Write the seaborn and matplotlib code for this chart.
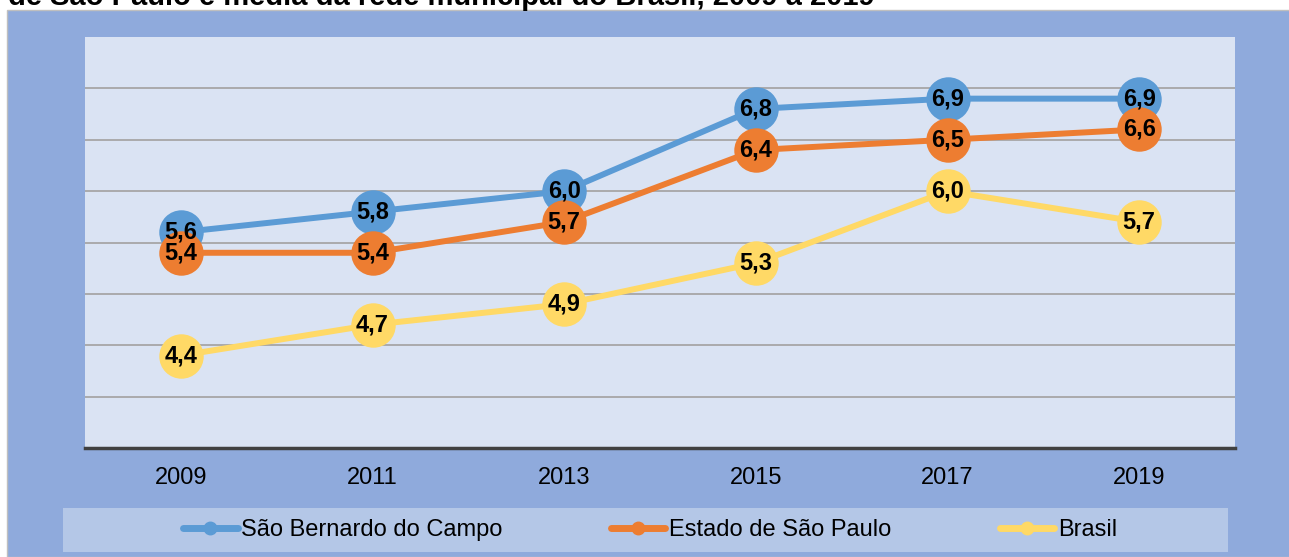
import pandas as pd
import numpy as np
import seaborn as sns
import matplotlib.pyplot as plt
from matplotlib.patches import Rectangle
from matplotlib.lines import Line2D

# dados do gráfico
anos = ['2009', '2011', '2013', '2015', '2017', '2019']
sao_bernardo = [5.6, 5.8, 6.0, 6.8, 6.9, 6.9]
estado_sp = [5.4, 5.4, 5.7, 6.4, 6.5, 6.6]
brasil = [4.4, 4.7, 4.9, 5.3, 6.0, 5.7]
series = ['São Bernardo do Campo', 'Estado de São Paulo', 'Brasil']
cores = ['#5b9bd5', '#ed7d31', '#ffd966']

df = pd.DataFrame({
    'pos': list(range(len(anos))) * 3,
    'valor': sao_bernardo + estado_sp + brasil,
    'serie': [s for s in series for _ in anos],
})

sns.set_style('white')
plt.rcParams['font.family'] = ['Liberation Sans', 'DejaVu Sans']
plt.rcParams['text.color'] = 'black'
plt.rcParams['xtick.color'] = 'black'

fig = plt.figure(figsize=(12.89, 5.57), dpi=100)
fig.patch.set_facecolor('white')

# fundo azul externo
fig.patches.append(Rectangle((7 / 1289, 0), 1, 1 - 10 / 557, transform=fig.transFigure,
                             facecolor='#8faadc', edgecolor='#bfbfbf', lw=1, zorder=-3))
# caixa da legenda
fig.patches.append(Rectangle((63 / 1289, 5 / 557), (1228 - 63) / 1289, 44 / 557,
                             transform=fig.transFigure, facecolor='#b4c7e7',
                             edgecolor='none', zorder=-2))

# título cortado no topo (como na imagem original)
fig.text(8 / 1289, 1 - 5 / 557,
         'de São Paulo e média da rede municipal do Brasil, 2009 a 2019',
         fontsize=21, fontweight='bold', va='baseline', ha='left', color='black')

ax = fig.add_axes([85 / 1289, 1 - 448 / 557, (1235 - 85) / 1289, (448 - 37) / 557])
ax.set_facecolor('#dae3f3')

sns.lineplot(data=df, x='pos', y='valor', hue='serie', hue_order=series,
             palette=cores, marker='o', markersize=32, markeredgewidth=0,
             linewidth=4.3, legend=False, ax=ax)

for vals in [sao_bernardo, estado_sp, brasil]:
    for i, v in enumerate(vals):
        ax.text(i, v, f'{v:.1f}'.replace('.', ','), ha='center', va='center',
                fontsize=17, fontweight='bold', color='black', zorder=10)

ax.set_xlim(-0.5, 5.5)
ax.set_ylim(3.5, 7.5)
ax.set_yticks(np.arange(4.0, 7.5, 0.5))
ax.set_yticklabels([])
ax.set_xticks(range(len(anos)))
ax.set_xticklabels(anos, fontsize=17)
ax.tick_params(axis='both', length=0)
ax.tick_params(axis='x', pad=14)
ax.grid(axis='y', color='#a6a6a6', lw=1.3)
ax.set_axisbelow(True)
ax.set_xlabel('')
ax.set_ylabel('')
for s in ['top', 'left', 'right']:
    ax.spines[s].set_visible(False)
ax.spines['bottom'].set_color('#404040')
ax.spines['bottom'].set_linewidth(2.5)

handles = [Line2D([], [], color=c, lw=5, marker='o', markersize=9) for c in cores]
fig.legend(handles, series, loc='center', bbox_to_anchor=(650 / 1289, 27 / 557),
           ncol=3, frameon=False, fontsize=17, handlelength=2.3, handletextpad=0.15,
           columnspacing=4.6)

plt.savefig('out.png', dpi=100)
